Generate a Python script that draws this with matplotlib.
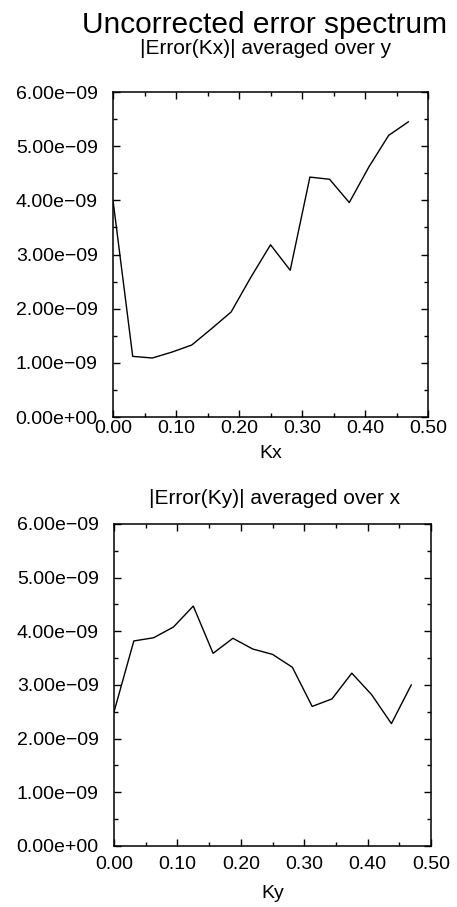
import matplotlib
matplotlib.use('Agg')
import matplotlib.pyplot as plt
from matplotlib.ticker import FuncFormatter, MultipleLocator

# wavenumbers: 16 samples, step 1/32
kx = [i / 32 for i in range(16)]
ky = [i / 32 for i in range(16)]

# |Error(Kx)| averaged over y
err_kx = [4.00e-09, 1.12e-09, 1.09e-09, 1.20e-09, 1.33e-09, 1.63e-09, 1.94e-09, 2.58e-09,
          3.18e-09, 2.71e-09, 4.43e-09, 4.39e-09, 3.96e-09, 4.62e-09, 5.20e-09, 5.45e-09]

# |Error(Ky)| averaged over x
err_ky = [2.50e-09, 3.82e-09, 3.88e-09, 4.08e-09, 4.47e-09, 3.59e-09, 3.87e-09, 3.67e-09,
          3.57e-09, 3.33e-09, 2.60e-09, 2.74e-09, 3.22e-09, 2.82e-09, 2.28e-09, 3.00e-09]

plt.rcParams['font.family'] = ['Liberation Sans', 'DejaVu Sans']

W, H = 457, 907
fig = plt.figure(figsize=(W / 100, H / 100), dpi=100)

fig.text(265 / W, 1 - 25 / H, "Uncorrected error spectrum", ha="center", va="center", fontsize=21.5)


def sci_fmt(v, pos):
    return ("%.2e" % v).replace("-", "\u2212")


def setup(ax, xlabel, xpad, lpad):
    ax.set_xlim(0, 0.5)
    ax.set_ylim(0, 6e-9)
    ax.xaxis.set_major_locator(MultipleLocator(0.1))
    ax.xaxis.set_minor_locator(MultipleLocator(0.05))
    ax.yaxis.set_major_locator(MultipleLocator(1e-9))
    ax.yaxis.set_minor_locator(MultipleLocator(0.5e-9))
    ax.xaxis.set_major_formatter(FuncFormatter(lambda v, p: "%.2f" % v))
    ax.yaxis.set_major_formatter(FuncFormatter(sci_fmt))
    ax.tick_params(which="both", direction="in", top=True, right=True, width=1.0)
    ax.tick_params(which="major", length=5)
    ax.tick_params(which="minor", length=3)
    ax.tick_params(axis="x", which="major", pad=xpad, labelsize=14)
    ax.tick_params(axis="y", which="major", pad=11, labelsize=14)
    for s in ax.spines.values():
        s.set_linewidth(1.1)
    ax.set_xlabel(xlabel, fontsize=14, labelpad=lpad)


ax1 = fig.add_axes([0.2473, 0.5402, 0.6893, 0.3583])
ax1.plot(kx, err_kx, color="black", linewidth=1.0)
setup(ax1, "Kx", 2, 6)
fig.text(266 / W, 1 - 48 / H, "|Error(Kx)| averaged over y", ha="center", va="center", fontsize=15)

ax2 = fig.add_axes([0.2495, 0.0673, 0.6937, 0.355])
ax2.plot(ky, err_ky, color="black", linewidth=1.0)
setup(ax2, "Ky", 7, 9)
fig.text(275 / W, 1 - 499 / H, "|Error(Ky)| averaged over x", ha="center", va="center", fontsize=15)

fig.savefig("out.png", dpi=100)
